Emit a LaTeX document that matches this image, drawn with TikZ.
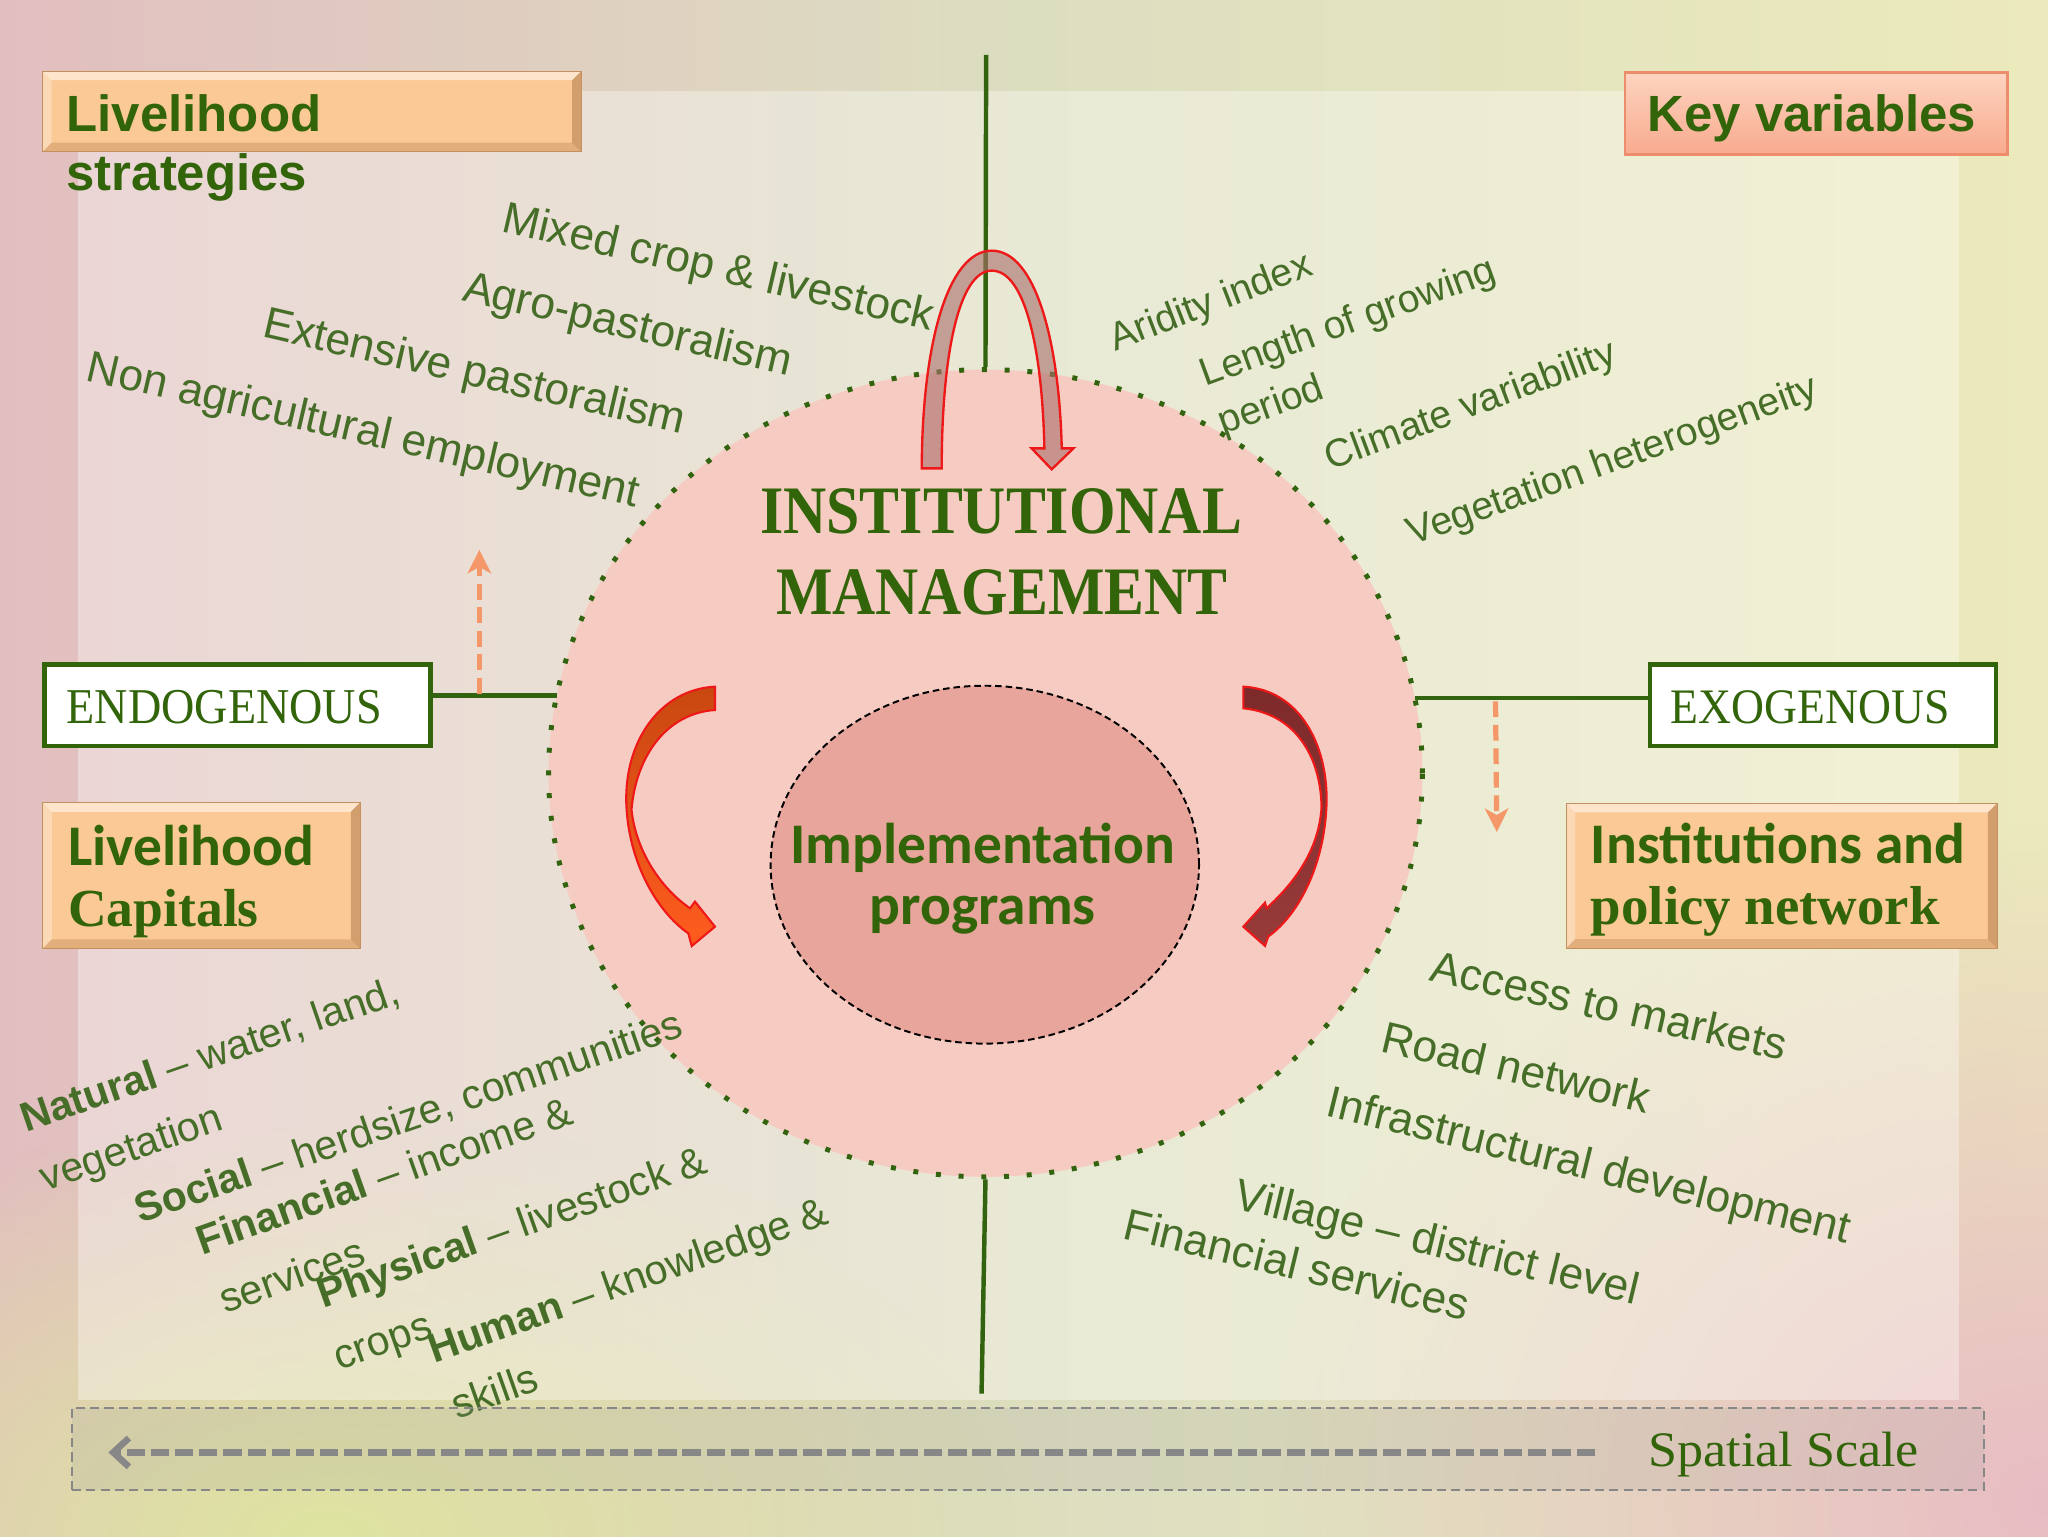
\documentclass[tikz,border=0pt]{standalone}
\usepackage{fontspec}
\setmainfont{Liberation Sans}
\newfontfamily\serifr[FakeStretch=0.92]{Liberation Serif}
\newfontfamily\serifb[FakeStretch=0.88]{Liberation Serif}
\newfontfamily\timesf{Liberation Serif}
\newfontfamily\calib{Carlito}
\usetikzlibrary{arrows.meta,fadings,shapes.geometric}
\tikzfading[name=myglow, inner color=transparent!0, outer color=transparent!100]
\definecolor{bgL}{RGB}{226,190,192}
\definecolor{bgM}{RGB}{220,222,192}
\definecolor{bgR}{RGB}{236,234,188}
\definecolor{bgBL}{RGB}{222,228,160}
\definecolor{bgBR}{RGB}{232,188,196}
\definecolor{lgreen}{RGB}{50,100,15}
\definecolor{dgreen}{RGB}{50,100,10}
\definecolor{tgreen}{RGB}{70,110,40}
\definecolor{circfill}{RGB}{246,204,194}
\definecolor{innerfill}{RGB}{232,165,155}
\definecolor{boxor}{RGB}{251,201,150}
\definecolor{boxedge}{RGB}{195,145,95}
\definecolor{bevdark}{RGB}{150,95,50}
\definecolor{kvtop}{RGB}{253,212,192}
\definecolor{kvbot}{RGB}{248,170,142}
\definecolor{kvedge}{RGB}{238,140,110}
\definecolor{dorange}{RGB}{245,152,105}
\definecolor{ared}{RGB}{238,24,24}
\definecolor{archfill}{RGB}{170,110,105}
\definecolor{lafillA}{RGB}{200,72,16}
\definecolor{lafillB}{RGB}{255,92,30}
\definecolor{rafillA}{RGB}{125,42,42}
\definecolor{rafillB}{RGB}{152,58,58}
\definecolor{ssgray}{RGB}{135,135,135}
\begin{document}
\begin{tikzpicture}[x=1pt,y=-1pt,
  gline/.style={draw=lgreen, line width=3.4pt},
  rtx/.style={anchor=base west, inner sep=0pt, outer sep=0pt, text=tgreen, font=\fontsize{34}{40}\selectfont},
  rtxk/.style={rtx, font=\fontsize{30}{36}\selectfont},
  rtxc/.style={rtx, font=\fontsize{31.5}{38}\selectfont},
  btx/.style={anchor=base west, inner sep=0pt, outer sep=0pt, text=dgreen},
  obox/.style={rectangle, inner sep=0pt, fill=boxor, draw=boxedge, line width=0.8pt,
    path picture={
      \fill[white, opacity=0.5] (path picture bounding box.north west) -- (path picture bounding box.north east) -- ([xshift=-7pt,yshift=-7pt]path picture bounding box.north east) -- ([xshift=7pt,yshift=-7pt]path picture bounding box.north west) -- cycle;
      \fill[white, opacity=0.3] (path picture bounding box.north west) -- ([xshift=7pt,yshift=-7pt]path picture bounding box.north west) -- ([xshift=7pt,yshift=7pt]path picture bounding box.south west) -- (path picture bounding box.south west) -- cycle;
      \fill[bevdark, opacity=0.25] (path picture bounding box.south west) -- (path picture bounding box.south east) -- ([xshift=-7pt,yshift=7pt]path picture bounding box.south east) -- ([xshift=7pt,yshift=7pt]path picture bounding box.south west) -- cycle;
      \fill[bevdark, opacity=0.4] (path picture bounding box.north east) -- (path picture bounding box.south east) -- ([xshift=-7pt,yshift=7pt]path picture bounding box.south east) -- ([xshift=-7pt,yshift=-7pt]path picture bounding box.north east) -- cycle;
    }},
  kvst/.style={rectangle, inner sep=0pt, top color=kvtop, bottom color=kvbot, draw=kvedge, line width=2pt},
  wbox/.style={rectangle, inner sep=0pt, fill=white, draw=dgreen, line width=3.5pt},
  darrow/.style={draw=dorange, line width=4pt, dash pattern=on 12pt off 6pt, -{Stealth[length=18pt,width=18pt,inset=5pt]}},
  ssarr/.style={draw=ssgray, line width=5pt, dash pattern=on 14pt off 4.5pt, -{Straight Barb[length=12pt,width=22pt]}},
  curvearrow/.style={draw=ared, line width=1.6pt, line join=miter}
]
\useasboundingbox (0,0) rectangle (1568,1176);
% background
\fill[left color=bgL, right color=bgR, middle color=bgM] (0,0) rectangle (1568,1176);
\fill[bgBL, path fading=myglow] (250,1176) ellipse [x radius=600pt, y radius=320pt];
\fill[bgBR, path fading=myglow] (1568,1150) ellipse [x radius=600pt, y radius=520pt];
\fill[white, opacity=0.35] (60,70) rectangle (1500,1072);

% big circle
\node[ellipse, minimum width=669pt, minimum height=618pt, inner sep=0pt, fill=circfill,
      draw=lgreen, line width=3.8pt, dash pattern=on 3.8pt off 13.6pt] (circ) at (754.5,592) {};
\node[ellipse, minimum width=328pt, minimum height=274pt, inner sep=0pt, fill=innerfill,
      draw=black, line width=1.5pt, dash pattern=on 5pt off 3pt] (inner) at (754,662) {};

% boxes on the axis
\node[wbox, minimum width=295.5pt, minimum height=62.5pt] (endo) at (182,540) {};
\node[wbox, minimum width=265pt, minimum height=62.5pt] (exo) at (1395.75,540) {};

% axis lines
\coordinate (vtop) at (755,42);
\coordinate (vbot) at (751.5,1067);
\coordinate (cleft) at (426.3,532.5);
\coordinate (cright) at (1083.2,534.6);
\draw[gline] (vtop) -- (circ.north);
\draw[gline] (circ.south) -- (vbot);
\draw[gline] ([yshift=7.5pt]endo.east) -- (cleft);
\draw[gline] (cright) -- ([yshift=5.4pt]exo.west);

% centre texts
\node[anchor=base, inner sep=0pt, text=dgreen, font=\serifb\bfseries\fontsize{52}{60}\selectfont] (inst) at (766.5,408.7) {INSTITUTIONAL};
\node[anchor=base, inner sep=0pt, text=dgreen, font=\serifb\bfseries\fontsize{52}{60}\selectfont] (mgmt) at (767,470.6) {MANAGEMENT};
\node[anchor=base, inner sep=0pt, text=dgreen, font=\calib\bfseries\fontsize{44}{52}\selectfont] (impl) at (752.5,661.1) {Implementation};
\node[anchor=base, inner sep=0pt, text=dgreen, font=\calib\bfseries\fontsize{44}{52}\selectfont] (prog) at (752.5,708) {programs};

% top arch arrow
\path[fill=archfill, fill opacity=0.6, draw=ared, line width=1.8pt, line join=miter]
  (705.7,358.6) .. controls (706,262) and (726,192) .. (759.3,191.9)
  .. controls (793,192) and (811,262) .. (812.9,343.3)
  -- (821.8,343.3) -- (805.2,359.3) -- (789.9,343.3) -- (799.6,343.3)
  .. controls (798,268) and (785,207.2) .. (759.3,207.2)
  .. controls (735,207.2) and (721,268) .. (721,358.6) -- cycle;

% left curved arrow
\path[curvearrow, top color=lafillA, bottom color=lafillB]
  (547.4,525.7) .. controls (505,528) and (478,568) .. (479.5,615)
  .. controls (481,660) and (503,698) .. (527,714.6)
  -- (529.6,724.3) -- (547.4,709.5) -- (532.1,690.3) -- (528.3,695.4)
  .. controls (506,680) and (487,652) .. (483.5,620)
  .. controls (487,578) and (511,546) .. (547.4,543.6) -- cycle;

% right curved arrow
\path[curvearrow, top color=rafillA, bottom color=rafillB]
  (951.9,525.7) .. controls (995,528) and (1016,570) .. (1015.7,612.5)
  .. controls (1015,660) and (995,700) .. (971,717)
  -- (968.5,724.2) -- (951.9,709.5) -- (968.5,691.1) -- (969.7,695.4)
  .. controls (992,675) and (1010,650) .. (1011.8,617.6)
  .. controls (1011,577) and (990,546) .. (951.9,542.3) -- cycle;

% dashed orange arrows
\coordinate (la0) at (367,531);
\coordinate (la1) at (367,421);
\coordinate (ra0) at (1145,537);
\coordinate (ra1) at (1146,637);
\draw[darrow] (la0) -- (la1);
\draw[darrow] (ra0) -- (ra1);

% livelihood strategies texts
\node[rtx, rotate=-13] (s1) at (383,177) {Mixed crop \& livestock};
\node[rtx, rotate=-13] (s2) at (353,230) {Agro-pastoralism};
\node[rtx, rotate=-13] (s3) at (200,258) {Extensive pastoralism};
\node[rtx, rotate=-13] (s4) at (65,291) {Non agricultural employment};

% key variables texts
\node[rtxk, rotate=21] (k1) at (854,269) {Aridity index};
\node[rtxk, rotate=20] (k2) at (923,296) {Length of growing};
\node[rtxk, rotate=20] (k3) at (937,333) {period};
\node[rtxk, rotate=20.5] (k4) at (1019,360) {Climate variability};
\node[rtxk, rotate=20] (k5) at (1081.5,418) {Vegetation heterogeneity};

% livelihood capitals texts
\node[rtxc, rotate=19] (c1) at (20,867) {{\bfseries Natural} – water, land,};
\node[rtxc, rotate=19] (c2) at (35,912) {vegetation};
\node[rtxc, rotate=19] (c3) at (107.5,937) {{\bfseries Social} – herdsize, communities};
\node[rtxc, rotate=19.5] (c4) at (155,961) {{\bfseries Financial} – income \&};
\node[rtxc, rotate=19.5] (c5) at (172.5,1006) {services};
\node[rtxc, rotate=19.5] (c6) at (247.5,1002) {{\bfseries Physical} – livestock \&};
\node[rtxc, rotate=19.5] (c7) at (260,1049) {crops};
\node[rtxc, rotate=19.5] (c8) at (332.5,1044) {{\bfseries Human} – knowledge \&};
\node[rtxc, rotate=19.5] (c9) at (350,1087) {skills};

% institutions texts
\node[rtx, rotate=-12.7] (i1) at (1094,751) {Access to markets};
\node[rtx, rotate=-13.2] (i2) at (1056,805) {Road network};
\node[rtx, rotate=-13.8] (i3) at (1014,854) {Infrastructural development};
\node[rtx, rotate=-13.5] (i4) at (944,925) {Village – district level};
\node[rtx, rotate=-13.5] (i5) at (859,948) {Financial services};

% label boxes
\node[obox, minimum width=412.5pt, minimum height=61.8pt] (lsbox) at (238.8,85.3) {};
\node[kvst, minimum width=293pt, minimum height=62.8pt] (kvbox) at (1390.5,86.8) {};
\node[obox, minimum width=243pt, minimum height=111.6pt] (lcbox) at (154.2,670.3) {};
\node[obox, minimum width=330pt, minimum height=111pt] (ipbox) at (1364,670.5) {};

\node[btx, font=\bfseries\fontsize{39}{46}\selectfont] (lst1) at (51,100.5) {Livelihood};
\node[btx, font=\bfseries\fontsize{39}{46}\selectfont] (lst2) at (51,146) {strategies};
\node[btx, font=\bfseries\fontsize{39}{46}\selectfont] (kvt) at (1261.5,100.5) {Key variables};
\node[btx, font=\serifr\fontsize{38.4}{46}\selectfont] (endot) at (51,554.2) {ENDOGENOUS};
\node[btx, font=\serifr\fontsize{38}{46}\selectfont] (exot) at (1279,554.2) {EXOGENOUS};
\node[btx, font=\calib\bfseries\fontsize{44}{52}\selectfont] (lct1) at (52.3,662.3) {Livelihood};
\node[btx, font=\timesf\bfseries\fontsize{41}{48}\selectfont] (lct2) at (52.3,709.5) {Capitals};
\node[btx, font=\calib\bfseries\fontsize{44}{52}\selectfont] (ipt1) at (1218,661.1) {Institutions and};
\node[btx, font=\timesf\bfseries\fontsize{42}{48}\selectfont] (ipt2) at (1218,708) {policy network};

% spatial scale
\node[rectangle, inner sep=0pt, minimum width=1464pt, minimum height=63pt, fill=gray!80, fill opacity=0.16,
      draw=ssgray, line width=1.5pt, dash pattern=on 7pt off 4pt] (ssbox) at (787,1109.5) {};
\coordinate (ss1) at (1221,1112);
\coordinate (ss0) at (83,1112);
\draw[ssarr] (ss1) -- (ss0);
\node[btx, font=\serifr\fontsize{38}{46}\selectfont, text=dgreen] (sst) at (1262,1123) {\addfontfeature{FakeStretch=1.05}Spatial Scale};
\end{tikzpicture}
\end{document}
